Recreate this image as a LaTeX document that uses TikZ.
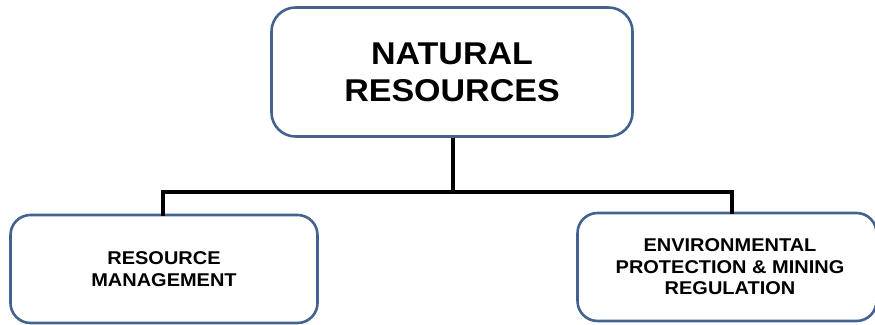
\documentclass[tikz,border=0pt]{standalone}
\usepackage{fontspec}
\setmainfont{Liberation Sans}
\newfontfamily\boxfont[FakeStretch=1.08]{Liberation Sans}
\definecolor{boxborder}{HTML}{43628F}
\begin{document}
\begin{tikzpicture}[x=1pt,y=-1pt,
  box/.style={draw=boxborder,line width=2.6pt,fill=white,rounded corners=24pt,align=center,inner sep=0pt},
  conn/.style={draw=black,line width=4.2pt},
  tophead/.style={font=\boxfont\bfseries\fontsize{31.5}{37}\selectfont},
  subhead/.style={font=\boxfont\bfseries\fontsize{18.5}{21.5}\selectfont}]
\useasboundingbox (0,0) rectangle (875,324);
\node[box,tophead,minimum width=361pt,minimum height=129pt] (top) at (452,72) {NATURAL\\RESOURCES};
\node[box,subhead,minimum width=307pt,minimum height=108pt,rounded corners=20pt] (left) at (164,269) {RESOURCE\\MANAGEMENT};
\node[box,subhead,minimum width=299pt,minimum height=108pt,rounded corners=20pt] (right) at (727,267) {\hspace*{6pt}ENVIRONMENTAL\\\hspace*{6pt}PROTECTION \& MINING\\\hspace*{6pt}REGULATION};
\coordinate (mid) at (453,192);
\draw[conn] (top.south -| mid) -- (mid);
\draw[conn,line cap=rect] (left.north -| 163,0) |- (mid) -| (right.north -| 732,0);
\end{tikzpicture}
\end{document}
